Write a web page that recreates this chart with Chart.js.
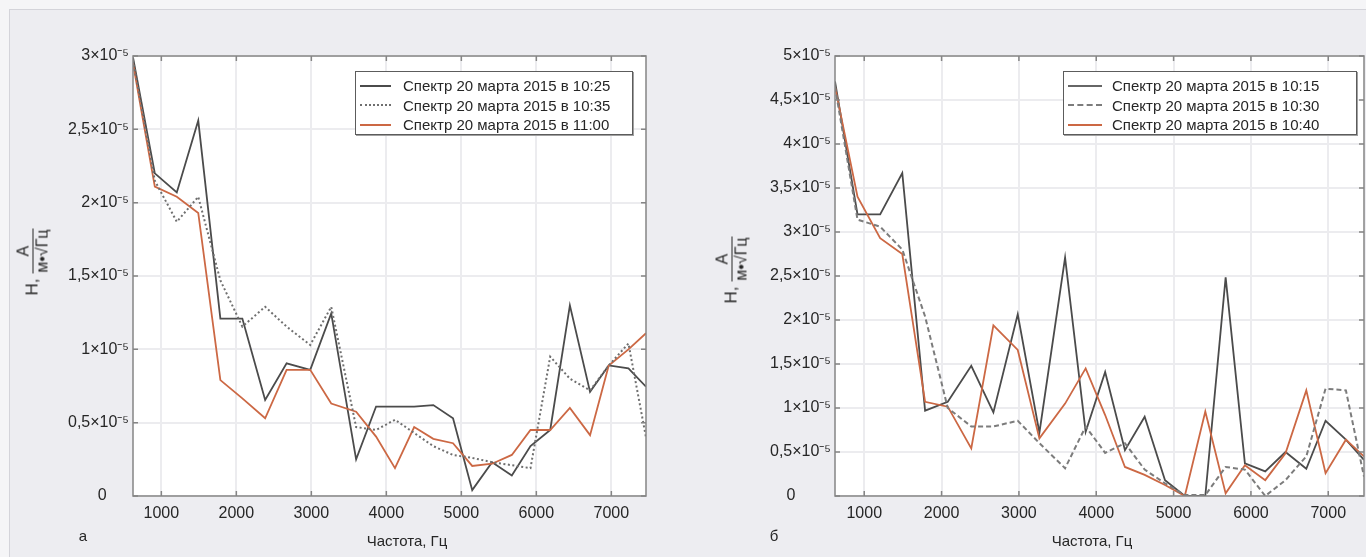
<!DOCTYPE html>
<html>
<head>
<meta charset="utf-8">
<script src="https://cdn.jsdelivr.net/npm/chart.js@4.4.1/dist/chart.umd.min.js"></script>
<style>
  html, body { margin: 0; padding: 0; }
  body {
    width: 1366px; height: 557px; overflow: hidden; position: relative;
    background: #f5f5f7;
    font-family: "Liberation Sans", Arial, sans-serif; color: #262626;
  }
  #frame {
    position: absolute; left: 9px; top: 9px; right: 0; bottom: 0;
    background: #ededf1; border-top: 1px solid #d4d4da; border-left: 1px solid #d4d4da;
  }
  .panel { position: absolute; top: 0; height: 557px; }
  .legend {
    position: absolute; background: #fff; box-sizing: border-box;
    border: 1.5px solid #5c5c5c; box-shadow: 1px 1px 0 #a0a0a0;
    padding-top: 4px; font-size: 15px; line-height: 19.5px;
  }
  .legend .row { display: flex; align-items: center; white-space: nowrap; }
  .legend .smp { display: inline-block; height: 0; }
  .ytitle {
    position: absolute; white-space: nowrap; font-size: 17px;
    transform: translate(-50%, -50%) rotate(-90deg);
  }
  .frac { display: inline-block; vertical-align: middle; text-align: center; font-size: 16px; line-height: 18px; }
  .frac .num { display: block; border-bottom: 1px solid #262626; padding: 0 2px; }
  .frac .den { display: block; padding: 0 1px; }
  .frac .den span { border-top: 1px solid #262626; }
  .lbl { position: absolute; font-size: 15px; transform: translate(-50%, -50%); white-space: nowrap; }
</style>
</head>
<body>
<div id="frame"></div>

<div class="panel" style="left:0; width:700px;"><canvas id="chartA"></canvas></div>
<div class="panel" style="left:700px; width:666px;"><canvas id="chartB"></canvas></div>

<div class="ytitle" style="left:33px; top:262px;">Н,&nbsp;<span class="frac"><span class="num">А</span><span class="den">м•√<span>Гц</span></span></span></div>
<div class="ytitle" style="left:732px; top:270px;">Н,&nbsp;<span class="frac"><span class="num">А</span><span class="den">м•√<span>Гц</span></span></span></div>

<div class="lbl" style="left:83px; top:535px;">а</div>
<div class="lbl" style="left:407px; top:540px;">Частота, Гц</div>
<div class="lbl" style="left:774px; top:535px;">б</div>
<div class="lbl" style="left:1092px; top:540px;">Частота, Гц</div>

<div id="legA" class="legend" style="left:355px; top:71px; width:278px; height:64px;"></div>
<div id="legB" class="legend" style="left:1063px; top:71px; width:294px; height:64px;"></div>

<script>
// frequency bins, Hz (same for both panels)
const freq = [622, 913, 1206, 1492, 1787, 2080, 2384, 2670, 2985, 3265, 3597, 3863, 4115,
              4371, 4626, 4889, 5145, 5410, 5673, 5922, 6185, 6447, 6716, 6965, 7228, 7462];

// panel а, values in units of 10^-5
const specA_1025 = [2.99, 2.20, 2.07, 2.56, 1.21, 1.21, 0.655, 0.905, 0.86, 1.245, 0.25, 0.61, 0.61,
                    0.61, 0.62, 0.53, 0.04, 0.23, 0.14, 0.34, 0.45, 1.30, 0.71, 0.89, 0.87, 0.745];
const specA_1035 = [2.97, 2.15, 1.87, 2.04, 1.47, 1.155, 1.29, 1.155, 1.03, 1.29, 0.47, 0.45, 0.52,
                    0.43, 0.34, 0.28, 0.26, 0.23, 0.21, 0.19, 0.95, 0.80, 0.72, 0.89, 1.04, 0.40];
const specA_1100 = [2.95, 2.11, 2.04, 1.93, 0.79, 0.666, 0.53, 0.86, 0.86, 0.63, 0.575, 0.405, 0.19,
                    0.47, 0.39, 0.36, 0.205, 0.22, 0.28, 0.45, 0.45, 0.60, 0.415, 0.89, 1.00, 1.11];

// panel б, values in units of 10^-5
const specB_1015 = [4.71, 3.20, 3.20, 3.67, 0.97, 1.07, 1.48, 0.95, 2.065, 0.72, 2.71, 0.73, 1.41,
                    0.52, 0.90, 0.18, 0.0, 0.0, 2.485, 0.37, 0.28, 0.50, 0.31, 0.855, 0.64, 0.41];
const specB_1030 = [4.65, 3.14, 3.06, 2.80, 2.04, 1.00, 0.79, 0.79, 0.855, 0.60, 0.315, 0.79, 0.49,
                    0.60, 0.30, 0.145, 0.01, 0.01, 0.33, 0.30, 0.0, 0.18, 0.45, 1.22, 1.20, 0.22];
const specB_1040 = [4.65, 3.40, 2.93, 2.75, 1.07, 1.015, 0.54, 1.94, 1.66, 0.655, 1.05, 1.45, 0.92,
                    0.33, 0.24, 0.125, 0.0, 0.96, 0.03, 0.35, 0.18, 0.485, 1.20, 0.26, 0.64, 0.45];

const labelsA = ["Спектр 20 марта 2015 в 10:25", "Спектр 20 марта 2015 в 10:35", "Спектр 20 марта 2015 в 11:00"];
const labelsB = ["Спектр 20 марта 2015 в 10:15", "Спектр 20 марта 2015 в 10:30", "Спектр 20 марта 2015 в 10:40"];

const xTicks = [1000, 2000, 3000, 4000, 5000, 6000, 7000];

const DARK = "#4b4b4b", GREY = "#6f6f6f", ORANGE = "#cc6844";
const FONT = { family: "'Liberation Sans', Arial, sans-serif", size: 16 };

function pts(vals) {
    return vals.map((v, i) => ({ x: freq[i], y: v }));
}

// white plot area, box around it and small inward ticks like the original
const boxPlugin = {
    id: "box",
    beforeDraw(chart) {
        const { ctx, chartArea: a } = chart;
        ctx.save();
        ctx.fillStyle = "#ffffff";
        ctx.fillRect(a.left, a.top, a.width, a.height);
        ctx.restore();
    },
    afterDraw(chart) {
        const { ctx, chartArea: a, scales } = chart;
        ctx.save();
        ctx.strokeStyle = "#858585";
        ctx.lineWidth = 1.5;
        ctx.beginPath();
        scales.x.ticks.forEach(t => {
            const px = scales.x.getPixelForValue(t.value);
            ctx.moveTo(px, a.top); ctx.lineTo(px, a.top + 5);
            ctx.moveTo(px, a.bottom); ctx.lineTo(px, a.bottom - 5);
        });
        scales.y.ticks.forEach(t => {
            const py = scales.y.getPixelForValue(t.value);
            ctx.moveTo(a.left, py); ctx.lineTo(a.left + 5, py);
            ctx.moveTo(a.right, py); ctx.lineTo(a.right - 5, py);
        });
        ctx.stroke();
        ctx.strokeRect(a.left, a.top, a.width, a.height);
        ctx.restore();
    }
};

function makeChart(id, series, labels, styles, yMax, yWidth, padRight, zeroLabel) {
    const ctx = document.getElementById(id).getContext("2d");
    const datasets = series.map((s, i) => ({
        label: labels[i],
        data: pts(s),
        borderColor: styles[i].color,
        borderWidth: styles[i].width,
        borderDash: styles[i].dash,
        pointRadius: 0,
        tension: 0,
        fill: false
    }));
    return new Chart(ctx, {
        type: "line",
        data: { datasets: datasets },
        options: {
            responsive: true,
            maintainAspectRatio: false,
            animation: false,
            layout: { padding: { top: 56, right: padRight, left: 0, bottom: 0 } },
            plugins: { legend: { display: false }, tooltip: { enabled: false } },
            scales: {
                x: {
                    type: "linear",
                    min: freq[0],
                    max: freq[freq.length - 1],
                    afterBuildTicks: s => { s.ticks = xTicks.map(v => ({ value: v })); },
                    afterFit: s => { s.height = 61; },
                    grid: { color: "#ececef", lineWidth: 2, drawTicks: false },
                    border: { display: false },
                    ticks: {
                        padding: 8, color: "#262626", font: FONT, maxRotation: 0,
                        callback: v => String(v)
                    }
                },
                y: {
                    min: 0,
                    max: yMax,
                    afterFit: s => { s.width = yWidth; },
                    grid: { color: "#ececef", lineWidth: 2, drawTicks: false },
                    border: { display: false },
                    ticks: {
                        stepSize: 0.5, padding: 4, color: "#262626", font: FONT,
                        callback: v => v === 0 ? zeroLabel : String(v).replace(".", ",") + "×10⁻⁵"
                    }
                }
            }
        },
        plugins: [boxPlugin]
    });
}

// dashed/dotted first, dark line last so it sits on top
const stylesA = [
    { color: GREY, width: 2, dash: [2, 2.5] },
    { color: ORANGE, width: 1.8, dash: [] },
    { color: DARK, width: 1.8, dash: [] }
];
const stylesB = [
    { color: "#7c7c7c", width: 2, dash: [5, 3] },
    { color: ORANGE, width: 1.8, dash: [] },
    { color: DARK, width: 1.8, dash: [] }
];

makeChart("chartA", [specA_1035, specA_1100, specA_1025],
          [labelsA[1], labelsA[2], labelsA[0]], stylesA, 3, 133, 54, "0\u2007\u2007 ");
makeChart("chartB", [specB_1030, specB_1040, specB_1015],
          [labelsB[1], labelsB[2], labelsB[0]], stylesB, 5, 135, 2, "0\u2007\u2007\u2007\u2007");

// legends inside the plot boxes
function fillLegend(id, labels, samples, smpWidth, gap) {
    const box = document.getElementById(id);
    labels.forEach((txt, i) => {
        const row = document.createElement("div");
        row.className = "row";
        const smp = document.createElement("span");
        smp.className = "smp";
        smp.style.width = smpWidth + "px";
        smp.style.margin = "0 " + gap + "px 0 4px";
        smp.style.borderTop = samples[i];
        const t = document.createElement("span");
        t.textContent = txt;
        row.appendChild(smp);
        row.appendChild(t);
        box.appendChild(row);
    });
}
fillLegend("legA", labelsA, ["2px solid " + DARK, "2px dotted " + GREY, "2px solid " + ORANGE], 31, 12);
fillLegend("legB", labelsB, ["2px solid #666", "2px dashed #7c7c7c", "2px solid " + ORANGE], 34, 10);
</script>
</body>
</html>
